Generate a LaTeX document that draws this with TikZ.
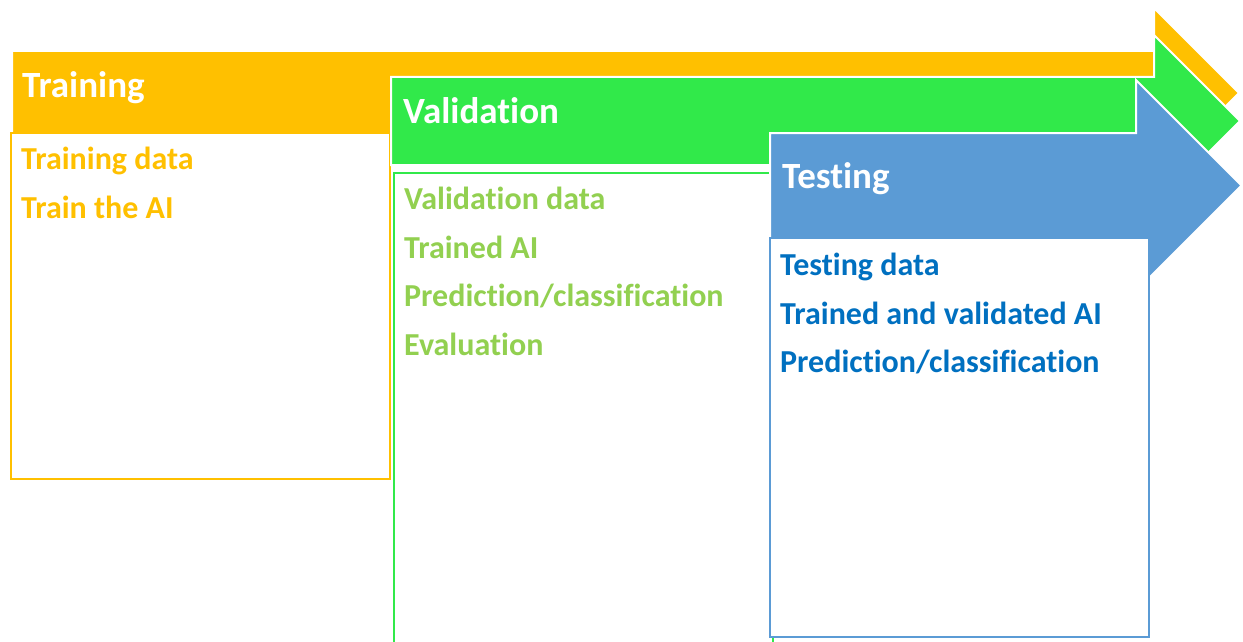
\documentclass[tikz,border=0pt]{standalone}
\usepackage{fontspec}
\setmainfont{Carlito}[Ligatures=NoCommon]
\definecolor{trainC}{HTML}{FFC000}
\definecolor{validC}{HTML}{31E94A}
\definecolor{validT}{HTML}{92D050}
\definecolor{testC}{HTML}{5B9BD5}
\definecolor{testT}{HTML}{0070C0}
\begin{document}
\begin{tikzpicture}[x=1pt,y=-1pt,
  phase/.style={draw=white,line width=2pt,line join=miter},
  stagebox/.style={fill=white,line width=2.5pt},
  head/.style={anchor=base west,inner sep=0pt,text=white,font=\fontsize{37}{44}\selectfont\bfseries},
  item/.style={anchor=base west,inner sep=0pt,font=\fontsize{32}{38}\selectfont\bfseries}]
\useasboundingbox (0,0) rectangle (1243,642);

% Training arrow and its box
\path[phase,fill=trainC] (12,51) -- (1154,51) -- (1154,8) -- (1239,93) -- (1154,178) -- (1154,135) -- (12,135) -- cycle;
\draw[stagebox,draw=trainC] (11,133) rectangle (390,479);

% Validation arrow and its box
\path[phase,fill=validC] (391,77) -- (1154,77) -- (1154,35) -- (1240,121) -- (1154,207) -- (1154,165) -- (391,165) -- cycle;
\draw[stagebox,draw=validC] (394,173) rectangle (773,660);

% Testing arrow and its box
\path[phase,fill=testC] (770,133) -- (1136,133) -- (1136,80) -- (1241.5,185.5) -- (1136,291) -- (1136,238) -- (770,238) -- cycle;
\draw[stagebox,draw=testC] (770,238) rectangle (1149,637);

% Phase titles
\node[head] (tTrain) at (22,97) {Training};
\node[head] (tValid) at (403,123) {Validation};
\node[head] (tTest) at (782,188) {Testing};

% Training steps
\node[item,text=trainC] (a1) at (21,169) {Training data};
\node[item,text=trainC] (a2) at (21,218) {Train the AI};

% Validation steps
\node[item,text=validT] (b1) at (404,209) {Validation data};
\node[item,text=validT] (b2) at (404,258) {Trained AI};
\node[item,text=validT] (b3) at (404,306) {Prediction/classification};
\node[item,text=validT] (b4) at (404,355) {Evaluation};

% Testing steps
\node[item,text=testT] (c1) at (780,275) {Testing data};
\node[item,text=testT] (c2) at (780,324) {Trained and validated AI};
\node[item,text=testT] (c3) at (780,372) {Prediction/classification};
\end{tikzpicture}
\end{document}
